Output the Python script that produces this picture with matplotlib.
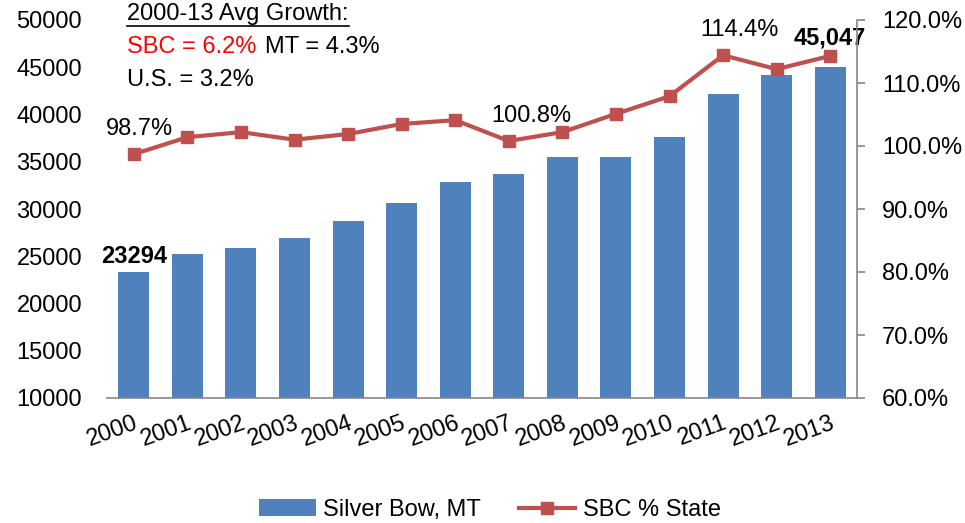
import matplotlib.pyplot as plt
import numpy as np

years = ['2000', '2001', '2002', '2003', '2004', '2005', '2006',
         '2007', '2008', '2009', '2010', '2011', '2012', '2013']
silver_bow = [23294, 25200, 25900, 26900, 28700, 30600, 32900,
              33700, 35500, 35500, 37600, 42200, 44200, 45047]
sbc_pct_state = [98.7, 101.4, 102.2, 101.0, 101.9, 103.5, 104.1,
                 100.8, 102.2, 105.1, 107.9, 114.4, 112.2, 114.3]

bar_color = '#4F81BD'
line_color = '#C0504D'
fs = 17
plt.rcParams['font.family'] = ['Liberation Sans', 'DejaVu Sans']

fig = plt.figure(figsize=(9.65, 5.23), dpi=100)
ax = fig.add_axes([107 / 965, 1 - 398 / 523, (857 - 107) / 965, (398 - 20) / 523])
ax2 = ax.twinx()

x = np.arange(len(years))
ax.bar(x, silver_bow, width=0.58, color=bar_color, label='Silver Bow, MT', zorder=2)
ax.set_ylim(10000, 50000)
ax.set_yticks(range(10000, 50001, 5000))
ax.set_xlim(-0.5, len(years) - 0.5)
ax.set_xticks(x)
ax.set_xticklabels(years, rotation=20, ha='right', va='top',
                   rotation_mode='anchor', fontsize=fs)
ax.tick_params(axis='x', length=0, pad=10)
ax.tick_params(axis='y', length=0, labelsize=fs, pad=18)
for s in ['top', 'right', 'left']:
    ax.spines[s].set_visible(False)
ax.spines['bottom'].set_color('#868686')
ax.spines['bottom'].set_linewidth(1.2)

ax2.plot(x, sbc_pct_state, color=line_color, lw=3, marker='s', ms=8,
         label='SBC % State', zorder=3)
ax2.set_ylim(60, 120)
ax2.set_yticks(range(60, 121, 10))
ax2.set_yticklabels(['%.1f%%' % v for v in range(60, 121, 10)], fontsize=fs)
ax2.tick_params(axis='y', direction='out', length=6, width=1.2,
                color='#868686', pad=12)
for s in ['top', 'left', 'bottom']:
    ax2.spines[s].set_visible(False)
ax2.spines['right'].set_color('#868686')
ax2.spines['right'].set_linewidth(1.2)

# data labels
ax.text(x[0], silver_bow[0] + 500, '23294', ha='center', va='bottom',
        fontsize=fs, fontweight='bold')
ax.text(x[-1], silver_bow[-1] + 1800, '45,047', ha='center', va='bottom',
        fontsize=fs, fontweight='bold')
for i, dx in [(0, 4), (7, 16), (11, 12)]:
    ax2.annotate('%.1f%%' % sbc_pct_state[i], (x[i], sbc_pct_state[i]),
                 xytext=(dx, 10), textcoords='offset points',
                 ha='center', va='bottom', fontsize=fs)

# growth note
t = fig.text(127 / 965, 1 - 14 / 523, '2000-13 Avg Growth:', fontsize=fs,
             va='center', ha='left')
fig.canvas.draw()
bb = t.get_window_extent()
fig.add_artist(plt.Line2D([bb.x0 / 965, bb.x1 / 965],
                          [(bb.y0 - 1) / 523, (bb.y0 - 1) / 523],
                          color='black', lw=1.2))
fig.text(127 / 965, 1 - 47 / 523, 'SBC = 6.2%', fontsize=fs, color='#FF0000',
         va='center', ha='left')
fig.text(265 / 965, 1 - 47 / 523, 'MT = 4.3%', fontsize=fs, va='center', ha='left')
fig.text(127 / 965, 1 - 80 / 523, 'U.S. = 3.2%', fontsize=fs, va='center', ha='left')

h1, l1 = ax.get_legend_handles_labels()
h2, l2 = ax2.get_legend_handles_labels()
fig.legend(h1 + h2, l1 + l2, loc='center', bbox_to_anchor=(490 / 965, 1 - 510 / 523),
           ncol=2, frameon=False, fontsize=fs, handlelength=2.4,
           handletextpad=0.3, columnspacing=1.6)

fig.savefig('out.png', dpi=100)
